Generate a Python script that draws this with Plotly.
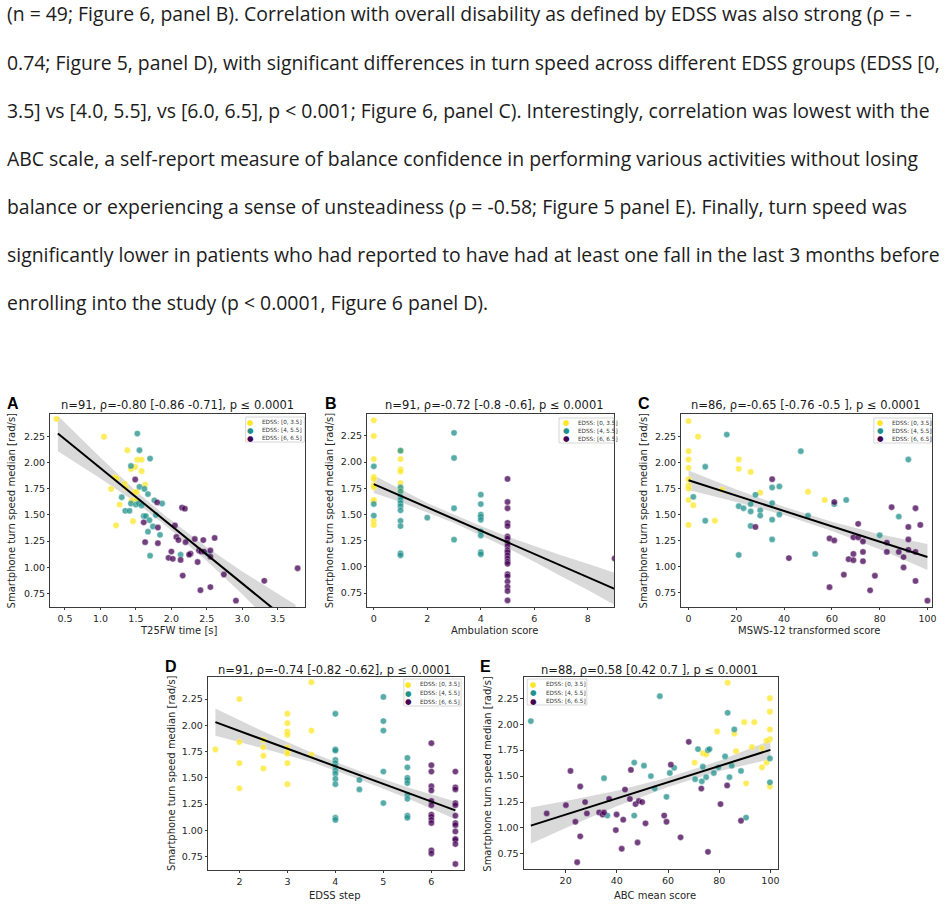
import plotly.graph_objects as go

W, H = 948, 907

# ---------------- text ----------------
paragraph_lines = [
    "(n = 49; Figure 6, panel B). Correlation with overall disability as defined by EDSS was also strong (ρ = -",
    "0.74; Figure 5, panel D), with significant differences in turn speed across different EDSS groups (EDSS [0,",
    "3.5] vs [4.0, 5.5], vs [6.0, 6.5], p &lt; 0.001; Figure 6, panel C). Interestingly, correlation was lowest with the",
    "ABC scale, a self-report measure of balance confidence in performing various activities without losing",
    "balance or experiencing a sense of unsteadiness (ρ = -0.58; Figure 5 panel E). Finally, turn speed was",
    "significantly lower in patients who had reported to have had at least one fall in the last 3 months before",
    "enrolling into the study (p &lt; 0.0001, Figure 6 panel D).",
]
legend_labels = ["EDSS: [0, 3.5]", "EDSS: [4, 5.5]", "EDSS: [6, 6.5]"]
group_colors = ["#fde725", "#21918c", "#440154"]
y_label = "Smartphone turn speed median [rad/s]"

panel_letters = ["A", "B", "C", "D", "E"]
panel_titles = [
    "n=91, ρ=-0.80 [-0.86 -0.71], p ≤ 0.0001",
    "n=91, ρ=-0.72 [-0.8 -0.6], p ≤ 0.0001",
    "n=86, ρ=-0.65 [-0.76 -0.5 ], p ≤ 0.0001",
    "n=91, ρ=-0.74 [-0.82 -0.62], p ≤ 0.0001",
    "n=88, ρ=0.58 [0.42 0.7 ], p ≤ 0.0001",
]
x_labels = ["T25FW time [s]", "Ambulation score", "MSWS-12 transformed score", "EDSS step", "ABC mean score"]

# ---------------- Panel A data ----------------
A_low_x = [0.38, 1.05, 1.38, 1.52, 1.58, 1.43, 1.49, 1.58, 1.20, 1.23, 1.15, 1.34, 1.48, 1.51, 1.63, 1.44, 1.27, 1.22, 1.46, 1.50, 1.36]
A_low_y = [2.42, 2.25, 2.12, 2.03, 2.03, 1.94, 1.96, 1.92, 1.86, 1.85, 1.75, 1.80, 1.72, 1.72, 1.79, 1.64, 1.60, 1.40, 1.44, 1.64, 1.76]
A_mid_x = [1.43, 1.52, 1.55, 1.70, 1.30, 1.35, 1.41, 1.43, 1.50, 1.54, 1.58, 1.55, 1.62, 1.67, 1.76, 1.87, 1.61, 1.64, 1.69, 1.74, 1.67, 1.84, 1.70, 2.13, 2.51, 1.78]
A_mid_y = [1.97, 2.28, 2.12, 2.04, 1.67, 1.54, 1.54, 1.61, 1.60, 1.61, 1.59, 1.77, 1.75, 1.70, 1.64, 1.61, 1.49, 1.49, 1.45, 1.39, 1.34, 1.31, 1.11, 1.12, 1.13, 1.50]
A_high_x = [1.49, 1.61, 1.63, 1.80, 1.81, 1.81, 2.05, 2.15, 2.19, 2.07, 2.10, 2.20, 2.00, 1.96, 2.02, 2.13, 2.16, 2.27, 2.33, 2.39, 2.45, 2.42, 2.37, 2.46, 2.55, 2.61, 2.55, 2.74, 2.41, 2.55, 2.91, 3.31, 3.78, 2.25]
A_high_y = [1.84, 1.43, 1.24, 1.62, 1.38, 1.23, 1.40, 1.57, 1.56, 1.29, 1.26, 1.24, 1.15, 1.09, 1.08, 1.07, 0.92, 1.13, 1.27, 1.16, 1.26, 1.15, 1.05, 1.15, 1.16, 1.28, 1.10, 0.93, 0.78, 0.81, 0.68, 0.87, 0.99, 1.12]
A_fit_x = [0.4, 3.75]
A_fit_y = [2.28, 0.43]
A_band_x = [0.4, 1.0, 1.5, 1.9, 2.5, 3.0, 3.75]
A_band_hi = [2.45, 2.05, 1.73, 1.50, 1.19, 0.96, 0.64]
A_band_lo = [2.11, 1.85, 1.62, 1.41, 1.06, 0.74, 0.23]

# ---------------- Panel B data ----------------
B_low_x = [0, 0, 0, 0, 0, 0, 0, 0, 0, 0, 0, 1, 1, 1, 1, 1, 1, 1]
B_low_y = [2.40, 2.25, 2.03, 1.86, 1.84, 1.78, 1.76, 1.64, 1.63, 1.44, 1.40, 2.11, 2.03, 1.93, 1.91, 1.80, 1.74, 1.73]
B_mid_x = [0, 0, 0, 1, 1, 1, 1, 1, 1, 1, 1, 1, 1, 1, 1, 2, 3, 3, 3, 3, 4, 4, 4, 4, 4, 4, 4, 4, 4]
B_mid_y = [1.96, 1.60, 1.49, 2.11, 1.76, 1.72, 1.67, 1.64, 1.61, 1.58, 1.54, 1.44, 1.39, 1.13, 1.11, 1.47, 2.28, 2.04, 1.56, 1.26, 1.69, 1.60, 1.50, 1.48, 1.45, 1.34, 1.30, 1.14, 1.12]
B_high_x = [5, 5, 5, 5, 5, 5, 5, 5, 5, 5, 5, 5, 5, 5, 5, 5, 5, 5, 5, 5, 5, 9]
B_high_y = [1.84, 1.62, 1.56, 1.42, 1.39, 1.29, 1.27, 1.23, 1.20, 1.16, 1.14, 1.11, 1.08, 1.05, 1.03, 0.93, 0.91, 0.86, 0.81, 0.77, 0.68, 1.08]
B_fit_x = [0, 9]
B_fit_y = [1.79, 0.79]
B_band_x = [0, 1, 2, 3, 4, 5, 6, 7, 8, 9]
B_band_hi = [1.875, 1.74, 1.61, 1.50, 1.39, 1.29, 1.20, 1.11, 1.03, 0.945]
B_band_lo = [1.705, 1.62, 1.52, 1.42, 1.30, 1.18, 1.05, 0.91, 0.78, 0.635]

# ---------------- Panel C data ----------------
C_low_x = [0, 0, 0, 0, 0, 0, 0, 0, 0, 4, 2, 11, 14, 21, 21, 26, 30, 50, 57]
C_low_y = [2.40, 2.11, 2.03, 1.95, 1.84, 1.78, 1.75, 1.64, 1.40, 2.25, 1.59, 1.44, 1.74, 2.03, 1.94, 1.91, 1.71, 1.72, 1.64]
C_mid_x = [16, 7, 2, 7, 21, 23, 21, 26, 26, 26, 28, 30, 30, 35, 35, 35, 35, 38, 38, 47, 50, 53, 61, 66, 80, 88, 92]
C_mid_y = [2.27, 1.96, 1.67, 1.44, 1.58, 1.56, 1.11, 1.60, 1.53, 1.39, 1.69, 1.54, 1.49, 1.76, 1.61, 1.45, 1.26, 1.77, 1.50, 2.11, 1.49, 1.12, 1.60, 1.64, 1.30, 1.48, 2.03]
C_high_x = [35, 28, 42, 59, 61, 59, 61, 65, 67, 69, 69, 69, 71, 71, 73, 73, 73, 76, 78, 83, 83, 85, 88, 90, 90, 92, 92, 92, 95, 95, 95, 97, 100]
C_high_y = [1.84, 1.38, 1.08, 1.27, 1.25, 0.80, 1.62, 0.92, 1.07, 1.28, 1.12, 1.06, 1.41, 1.28, 1.24, 1.14, 1.05, 0.77, 0.91, 1.23, 1.14, 1.57, 1.14, 1.09, 0.99, 1.38, 1.26, 1.16, 1.56, 1.14, 0.86, 1.40, 0.67]
C_fit_x = [0, 100]
C_fit_y = [1.83, 1.09]
C_band_x = [0, 20, 40, 60, 80, 100]
C_band_hi = [1.925, 1.74, 1.575, 1.43, 1.31, 1.215]
C_band_lo = [1.735, 1.62, 1.495, 1.34, 1.165, 0.965]

# ---------------- Panel D data ----------------
D_low_x = [1.5, 2, 2, 2, 2, 2.5, 2.5, 2.5, 2.5, 3, 3, 3, 3, 3, 3, 3, 3, 3, 3.5, 3.5, 3.5]
D_low_y = [1.77, 2.25, 1.84, 1.64, 1.40, 1.86, 1.79, 1.71, 1.59, 2.11, 2.02, 1.94, 1.91, 1.79, 1.75, 1.73, 1.64, 1.44, 2.41, 1.95, 1.72]
D_mid_x = [4, 4, 4, 4, 4, 4, 4, 4, 4, 4, 4, 4, 4.5, 4.5, 5, 5, 5, 5, 5, 5.5, 5.5, 5.5, 5.5, 5.5, 5.5, 5.5, 5.5, 5.5]
D_mid_y = [2.11, 1.77, 1.76, 1.67, 1.64, 1.61, 1.57, 1.54, 1.49, 1.44, 1.12, 1.10, 1.48, 1.39, 2.27, 2.04, 1.95, 1.56, 1.26, 1.69, 1.60, 1.50, 1.48, 1.45, 1.34, 1.30, 1.14, 1.12]
D_high_x = [6, 6, 6, 6, 6, 6, 6, 6, 6, 6, 6, 6, 6, 6.5, 6.5, 6.5, 6.5, 6.5, 6.5, 6.5, 6.5, 6.5, 6.5, 6.5, 6.5, 6.5]
D_high_y = [1.83, 1.62, 1.56, 1.42, 1.38, 1.28, 1.24, 1.15, 1.13, 1.10, 1.07, 0.81, 0.78, 1.56, 1.41, 1.39, 1.26, 1.24, 1.14, 1.07, 1.05, 0.99, 0.92, 0.91, 0.87, 0.68]
D_fit_x = [1.5, 6.5]
D_fit_y = [2.03, 1.19]
D_band_x = [1.5, 2.5, 3.5, 4.5, 5.5, 6.5]
D_band_hi = [2.16, 1.94, 1.74, 1.565, 1.41, 1.275]
D_band_lo = [1.90, 1.78, 1.65, 1.485, 1.305, 1.105]

# ---------------- Panel E data ----------------
E_low_x = [83.3, 99.8, 99.8, 99.8, 99.8, 98.5, 89.8, 93.7, 79.2, 85.9, 92.8, 96.7, 86.6, 73.6, 74.9, 70.4, 98.5, 96.7, 90.5, 99.8]
E_low_y = [2.40, 2.25, 2.12, 1.95, 1.855, 1.84, 2.02, 2.02, 1.93, 1.91, 1.78, 1.77, 1.74, 1.72, 1.71, 1.63, 1.63, 1.585, 1.43, 1.40]
E_mid_x = [6.4, 56.8, 83.3, 85.9, 71.7, 75.6, 76.2, 82.3, 99.8, 46.8, 50.6, 62.4, 60.7, 73.6, 79.7, 84.9, 88.5, 77.9, 74.9, 84.0, 70.6, 73.2, 53.3, 35.0, 54.8, 59.4, 99.8, 36.3, 46.8, 90.5]
E_mid_y = [2.03, 2.27, 2.11, 1.95, 1.76, 1.75, 1.76, 1.69, 1.67, 1.63, 1.60, 1.58, 1.53, 1.59, 1.585, 1.60, 1.55, 1.53, 1.49, 1.49, 1.47, 1.45, 1.50, 1.48, 1.38, 1.30, 1.44, 1.12, 1.12, 1.10]
E_high_x = [21.9, 20.1, 12.6, 25.7, 27.6, 28.3, 23.8, 25.7, 24.5, 33.1, 34.4, 35.0, 37.0, 39.6, 39.9, 42.5, 43.2, 41.9, 45.5, 45.1, 47.3, 48.6, 49.9, 48.1, 51.2, 58.5, 59.4, 61.1, 64.9, 68.1, 73.0, 75.6, 80.5, 83.1, 88.5]
E_high_y = [1.55, 1.22, 1.14, 1.40, 1.25, 1.14, 1.06, 0.92, 0.67, 1.15, 1.13, 1.15, 1.28, 0.98, 1.13, 1.08, 1.37, 0.80, 1.56, 1.28, 1.23, 1.26, 1.25, 0.86, 1.045, 1.12, 1.06, 1.61, 0.91, 1.83, 1.38, 0.77, 1.23, 1.41, 1.07]
E_fit_x = [6.4, 100]
E_fit_y = [1.023, 1.753]
E_band_x = [6.4, 20, 40, 60, 80, 100]
E_band_hi = [1.198, 1.26, 1.36, 1.486, 1.647, 1.843]
E_band_lo = [0.848, 1.00, 1.21, 1.396, 1.547, 1.663]

# ---------------- layout (pixel geometry) ----------------
def px(x):
    return x / W

def py(y):
    return 1 - y / H

panels = [
    dict(data=[(A_low_x, A_low_y), (A_mid_x, A_mid_y), (A_high_x, A_high_y)],
         fit=(A_fit_x, A_fit_y), band=(A_band_x, A_band_hi, A_band_lo),
         dom=(50.7, 306.7, 414, 607), xr=[0.295, 3.885], yr=[0.619, 2.467], dtick=0.5, fmt=".1f",
         leg=dict(box=(247, 417, 306, 442), mx=251.5, tx=261.5, rows=[422.3, 430.3, 438.3]),
         title_xy=(178, 405), letter_xy=(13, 404), xlab_xy=(180, 630), ylab_x=12),
    dict(data=[(B_low_x, B_low_y), (B_mid_x, B_mid_y), (B_high_x, B_high_y)],
         fit=(B_fit_x, B_fit_y), band=(B_band_x, B_band_hi, B_band_lo),
         dom=(369.3, 617.3, 414, 607), xr=[-0.24, 8.98], yr=[0.617, 2.46], dtick=2, fmt="d",
         leg=dict(box=(562, 418, 617, 443), mx=569.3, tx=579, rows=[422.8, 430.8, 438.8]),
         title_xy=(496.7, 405), letter_xy=(333, 404), xlab_xy=(496.7, 630), ylab_x=331.5),
    dict(data=[(C_low_x, C_low_y), (C_mid_x, C_mid_y), (C_high_x, C_high_y)],
         fit=(C_fit_x, C_fit_y), band=(C_band_x, C_band_hi, C_band_lo),
         dom=(685, 936.7, 414, 606.7), xr=[-3.0, 101.8], yr=[0.612, 2.468], dtick=20, fmt="d",
         leg=dict(box=(878.5, 418, 936, 443), mx=885, tx=895, rows=[422.8, 430.8, 438.8]),
         title_xy=(810, 405), letter_xy=(647, 404), xlab_xy=(813, 630), ylab_x=646.5),
    dict(data=[(D_low_x, D_low_y), (D_mid_x, D_mid_y), (D_high_x, D_high_y)],
         fit=(D_fit_x, D_fit_y), band=(D_band_x, D_band_hi, D_band_lo),
         dom=(209.3, 466, 676.7, 870), xr=[1.35, 6.67], yr=[0.623, 2.4625], dtick=1, fmt="d",
         leg=dict(box=(406, 679, 463.5, 706), mx=410.7, tx=420, rows=[684.3, 693.0, 701.5]),
         title_xy=(336.7, 670), letter_xy=(172, 666), xlab_xy=(336.7, 895), ylab_x=172.5),
    dict(data=[(E_low_x, E_low_y), (E_mid_x, E_mid_y), (E_high_x, E_high_y)],
         fit=(E_fit_x, E_fit_y), band=(E_band_x, E_band_hi, E_band_lo),
         dom=(526.7, 781.7, 677.3, 869.3), xr=[3.7, 102.8], yr=[0.602, 2.452], dtick=20, fmt="d",
         leg=dict(box=(530, 679, 590, 705), mx=536.7, tx=546.7, rows=[684.3, 692.7, 701.0]),
         title_xy=(653, 670), letter_xy=(488.5, 666), xlab_xy=(658, 895), ylab_x=490),
]

fig = go.Figure()
layout = dict(width=W, height=H, margin=dict(l=0, r=0, t=0, b=0),
              paper_bgcolor="white", plot_bgcolor="white", showlegend=False)
annotations = []
shapes = []

tickfont = dict(family="DejaVu Sans", size=9.5, color="#262626")
label_font = dict(family="DejaVu Sans", size=10, color="#262626")

for i, p in enumerate(panels):
    sfx = "" if i == 0 else str(i + 1)
    xa, ya = "x" + sfx, "y" + sfx
    x0, x1, y0, y1 = p["dom"]
    common = dict(showline=True, linecolor="#3a3a3a", linewidth=0.9, mirror=True,
                  ticks="outside", ticklen=2.5, tickwidth=0.8, tickcolor="#3a3a3a",
                  showgrid=False, zeroline=False, tickfont=tickfont)
    layout["xaxis" + sfx] = dict(common, domain=[px(x0), px(x1)], anchor=ya, range=p["xr"],
                                 dtick=p["dtick"], tick0=0, tickformat=p["fmt"])
    layout["yaxis" + sfx] = dict(common, domain=[py(y1), py(y0)], anchor=xa, range=p["yr"],
                                 dtick=0.25, tick0=0, tickformat=".2f")

    bx, bhi, blo = p["band"]
    fig.add_trace(go.Scatter(x=bx + bx[::-1], y=bhi + blo[::-1], fill="toself",
                             fillcolor="rgba(0,0,0,0.15)", line=dict(width=0),
                             mode="lines", hoverinfo="skip", xaxis=xa, yaxis=ya))
    for (gx, gy), col, lab in zip(p["data"], group_colors, legend_labels):
        fig.add_trace(go.Scatter(x=gx, y=gy, mode="markers", name=lab,
                                 marker=dict(color=col, size=6.3, opacity=0.75,
                                             line=dict(color="white", width=0.4)),
                                 xaxis=xa, yaxis=ya))
    fx, fy = p["fit"]
    fig.add_trace(go.Scatter(x=fx, y=fy, mode="lines", line=dict(color="black", width=2),
                             xaxis=xa, yaxis=ya))

    # titles and labels
    tx, ty = p["title_xy"]
    annotations.append(dict(text=panel_titles[i], x=px(tx), y=py(ty), xref="paper", yref="paper",
                            showarrow=False, xanchor="center", yanchor="middle",
                            font=dict(family="DejaVu Sans", size=11.5, color="#1a1a1a")))
    lx, ly = p["letter_xy"]
    annotations.append(dict(text="<b>" + panel_letters[i] + "</b>", x=px(lx), y=py(ly), xref="paper",
                            yref="paper", showarrow=False, xanchor="center", yanchor="middle",
                            font=dict(family="Liberation Sans", size=16, color="black")))
    xx, xy = p["xlab_xy"]
    annotations.append(dict(text=x_labels[i], x=px(xx), y=py(xy), xref="paper", yref="paper",
                            showarrow=False, xanchor="center", yanchor="middle", font=label_font))
    annotations.append(dict(text=y_label, x=px(p["ylab_x"]), y=py((y0 + y1) / 2), xref="paper",
                            yref="paper", showarrow=False, textangle=-90, xanchor="center",
                            yanchor="middle", font=label_font))

    # legend box
    lg = p["leg"]
    bx0, by0, bx1, by1 = lg["box"]
    shapes.append(dict(type="rect", xref="paper", yref="paper", x0=px(bx0), x1=px(bx1),
                       y0=py(by1), y1=py(by0), fillcolor="rgba(255,255,255,0.8)",
                       line=dict(color="#cccccc", width=0.8)))
    for r, (col, lab) in enumerate(zip(group_colors, legend_labels)):
        ry = lg["rows"][r]
        annotations.append(dict(text="●", x=px(lg["mx"]), y=py(ry), xref="paper", yref="paper",
                                showarrow=False, xanchor="center", yanchor="middle",
                                font=dict(family="DejaVu Sans", size=7.5, color=col)))
        annotations.append(dict(text=lab, x=px(lg["tx"]), y=py(ry), xref="paper", yref="paper",
                                showarrow=False, xanchor="left", yanchor="middle",
                                font=dict(family="DejaVu Sans", size=5.7, color="#333333")))

# paragraph
line_ys = [14, 62, 110, 158, 206, 254, 302]
for t, yy in zip(paragraph_lines, line_ys):
    annotations.append(dict(text=t, x=px(5), y=py(yy), xref="paper", yref="paper",
                            showarrow=False, xanchor="left", yanchor="middle",
                            font=dict(family="Open Sans", size=19.4, color="#1c1c1c")))

layout["annotations"] = annotations
layout["shapes"] = shapes
fig.update_layout(**layout)
fig.write_html("out.html")
